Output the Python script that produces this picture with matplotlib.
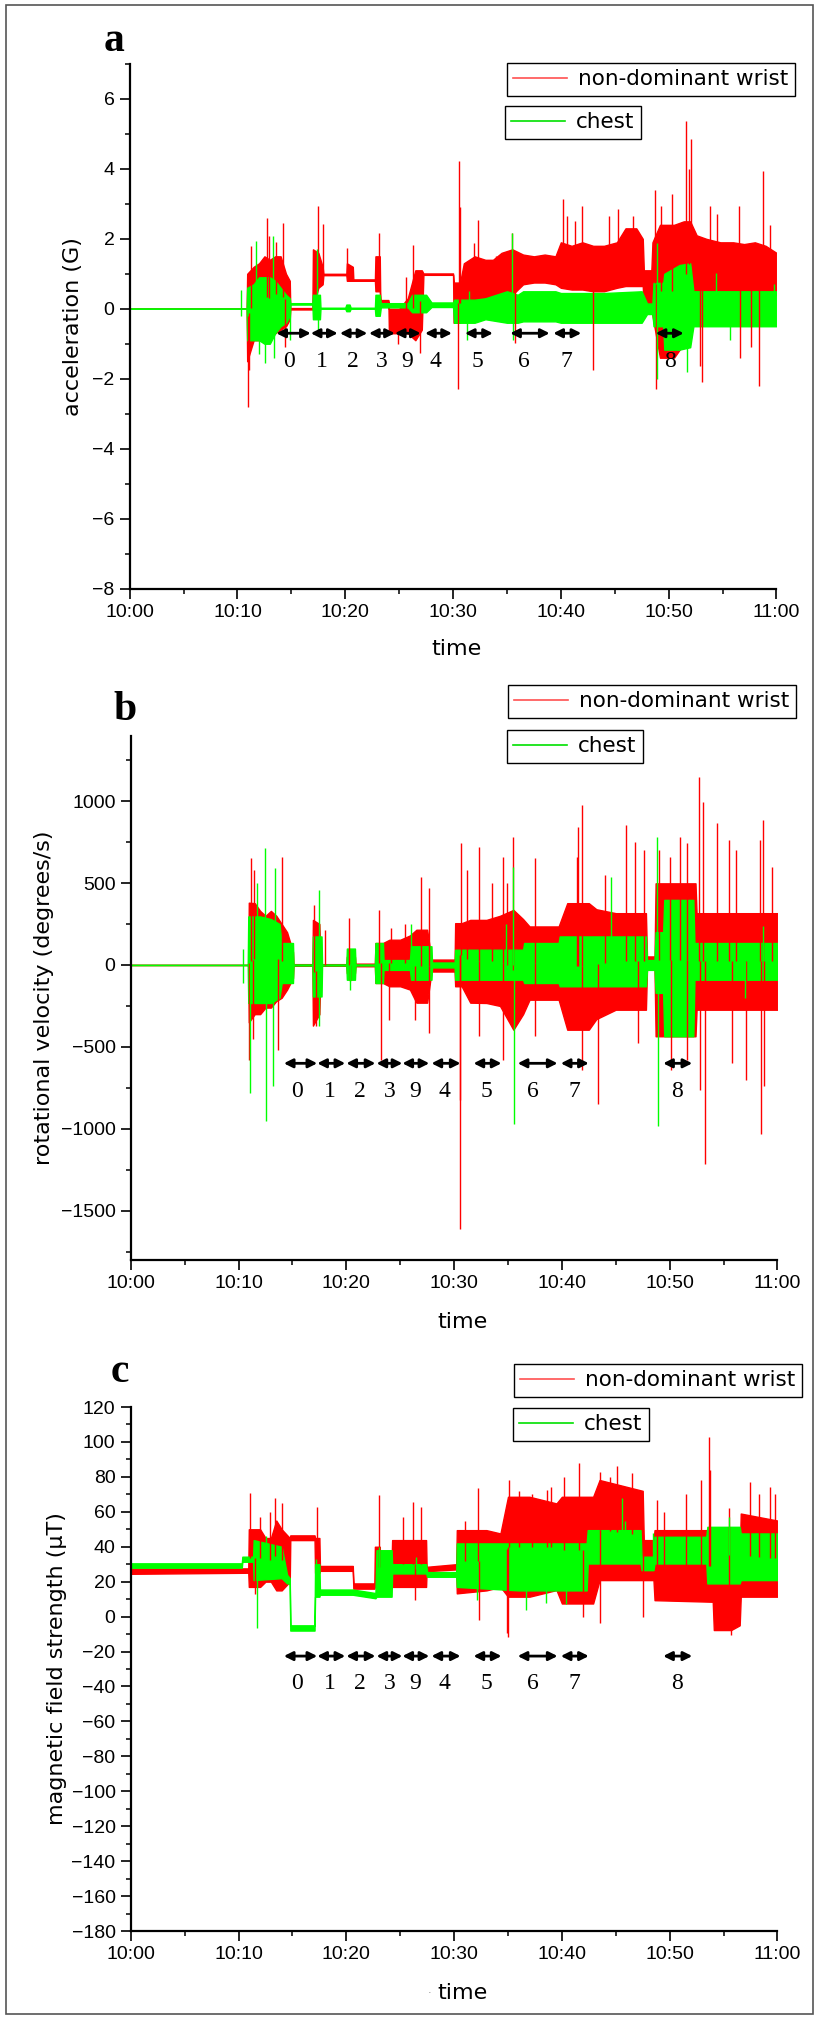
import numpy as np
import matplotlib
matplotlib.use('Agg')
import matplotlib.pyplot as plt
from matplotlib.lines import Line2D
from matplotlib.patches import Rectangle
from matplotlib.ticker import MultipleLocator, FuncFormatter

# ---- data (time in minutes after 10:00) ----
# signal envelope: time points with lower / upper values, plus isolated spikes (time, value)

# a: acceleration (G)
acc_wrist_t = [0, 10.85, 10.9, 11.5, 12.0, 12.5, 13.0, 13.5, 14.0, 14.5, 14.85, 14.9, 16.95, 17.0, 17.5, 17.9,
               17.97, 20.1, 20.15, 20.7, 20.75, 22.75, 22.8, 23.2, 23.25, 24.0, 24.05, 25.0, 25.8, 26.5, 27.1,
               27.25, 30.0, 30.05, 30.65, 31.0, 32.0, 33.0, 33.7, 34.5, 35.5, 36.5, 37.5, 38.5, 39.5, 40.0,
               41.0, 42.0, 43.0, 44.0, 45.2, 46.0, 47.0, 47.6, 47.7, 48.4, 48.5, 49.2, 50.5, 51.4, 52.0,
               52.6, 53.5, 54.8, 56.0, 57.0, 58.0, 59.0, 60]
acc_wrist_lo = [0, 0, -1.5, -0.9, -0.9, -0.8, -0.8, -0.7, -0.6, -0.5, -0.3, -0.02, -0.02, 0.0, 0.6, 0.7,
                0.96, 0.96, 0.8, 0.8, 0.8, 0.8, 0.5, 0.5, 0.2, 0.2, -0.7, -0.7, -0.7, -0.9, -0.6,
                0.97, 0.97, -0.4, -0.4, -0.2, -0.2, 0.0, 0.0, 0.3, 0.4, 0.7, 0.75, 0.75, 0.7, 0.6,
                0.55, 0.55, 0.5, 0.5, 0.6, 0.65, 0.65, 0.65, 0.0, 0.0, -0.2, -1.4, -1.4, -1.0, 0.26,
                0.26, 0.26, 0.36, 0.4, 0.36, 0.4, 0.36, 0.4]
acc_wrist_hi = [0, 0, 1.0, 1.2, 1.3, 1.5, 1.4, 1.5, 1.5, 1.0, 0.8, 0.02, 0.02, 1.7, 1.6, 1.2,
                1.0, 1.0, 1.3, 1.2, 0.84, 0.84, 1.5, 1.5, 0.25, 0.25, 0.0, 0.0, 0.3, 1.1, 1.1,
                1.01, 1.01, 0.75, 0.75, 1.3, 1.5, 1.4, 1.4, 1.6, 1.7, 1.55, 1.5, 1.55, 1.5, 1.9,
                1.8, 1.9, 1.8, 1.8, 1.9, 2.3, 2.3, 2.0, 1.1, 1.1, 1.9, 2.4, 2.4, 2.5, 2.5,
                2.1, 2.0, 1.9, 1.9, 1.85, 1.9, 1.8, 1.6]
acc_wrist_spk_t = [10.95, 11.1, 11.3, 12.7, 12.95, 13.6, 14.25, 14.4, 17.5, 17.97, 20.2, 23.1, 24.9, 25.6,
                   26.3, 26.95, 30.5, 30.55, 30.6, 31.9, 32.35, 34.0, 35.45, 35.75, 40.24, 40.6, 41.3,
                   41.94, 42.96, 44.5, 45.3, 46.7, 48.74, 48.8, 49.3, 50.3, 51.62, 51.9, 52.08, 52.9,
                   53.1, 53.8, 54.5, 56.5, 56.6, 57.6, 58.4, 58.8, 59.4]
acc_wrist_spk_v = [-2.8, -1.74, 1.8, 2.6, 2.08, 1.9, 2.46, -1.1, 2.94, 2.41, 1.74, 2.17, -1.0, 0.9,
                   1.82, -1.26, -2.3, 4.23, 2.9, 1.89, 2.55, 1.5, 2.17, -0.98, 3.13, 2.65, 2.5,
                   2.94, -1.74, 2.65, 2.84, 2.65, 3.4, -2.3, 2.94, 3.27, 5.37, 3.99, 4.85, -1.65,
                   -2.1, 2.94, 2.7, 2.94, -1.4, -1.1, -2.2, 3.94, 2.4]

acc_chest_t = [0, 10.85, 10.9, 11.5, 12.0, 12.5, 13.0, 13.5, 14.0, 14.5, 14.85, 14.9, 16.95, 17.0, 17.65,
               17.7, 20.0, 20.1, 20.4, 20.5, 22.75, 22.8, 23.2, 23.3, 25.8, 26.2, 27.5, 28.0, 30.0, 30.1,
               32.0, 33.0, 35.0, 36.0, 36.5, 39.5, 40.0, 44.0, 47.5, 48.0, 48.5, 48.6, 49.5, 49.6, 51.0,
               52.0, 52.3, 60]
acc_chest_lo = [0, 0, -0.9, -0.9, -0.9, -1.0, -1.0, -0.7, -0.5, -0.4, -0.2, 0.12, 0.12, -0.3, -0.3,
                0.0, 0.0, -0.07, -0.07, 0.0, 0.0, -0.2, -0.2, 0.04, 0.04, -0.1, -0.1, 0.05, 0.05, -0.4,
                -0.4, -0.3, -0.4, -0.4, -0.36, -0.36, -0.4, -0.4, -0.4, -0.15, -0.15, -0.5, -0.5, -1.17, -1.17,
                -1.1, -0.5, -0.5]
acc_chest_hi = [0, 0, 0.6, 0.7, 0.9, 0.9, 0.9, 0.8, 0.6, 0.4, 0.3, 0.16, 0.16, 0.4, 0.4,
                0.03, 0.03, 0.12, 0.12, 0.03, 0.03, 0.4, 0.4, 0.16, 0.16, 0.4, 0.4, 0.18, 0.18, 0.26,
                0.26, 0.3, 0.5, 0.4, 0.5, 0.5, 0.45, 0.45, 0.5, 0.15, 0.15, 0.74, 0.74, 1.0, 1.25,
                1.3, 0.5, 0.5]
acc_chest_spk_t = [10.3, 10.35, 11.7, 12.0, 12.55, 13.3, 13.35, 14.9, 17.4, 17.45, 31.3, 31.5, 35.5, 35.6,
                   48.9, 48.95, 51.7, 54.4, 55.7, 59.8]
acc_chest_spk_v = [0.55, -0.21, 1.93, -1.3, -1.55, 2.08, -1.4, -0.9, 1.7, -0.7, -0.88, 0.5, 2.17, -0.88,
                   1.89, -2.0, -1.8, 1.03, -0.88, 0.7]

# b: rotational velocity (degrees/s)
rot_wrist_t = [0, 10.9, 10.95, 11.5, 12.0, 12.5, 13.0, 13.5, 14.0, 14.5, 15.05, 15.1, 16.85, 16.9, 17.5,
               17.6, 20.0, 20.05, 20.8, 20.85, 22.65, 22.7, 23.4, 24.0, 25.0, 25.9, 26.5, 27.5, 27.9, 30.05,
               30.1, 30.7, 31.5, 33.0, 34.26, 35.5, 36.4, 37.0, 39.7, 40.5, 42.5, 43.2, 45.0, 47.8, 47.9,
               48.6, 48.7, 52.4, 52.5, 60]
rot_wrist_lo = [0, 0, -350, -300, -300, -260, -260, -220, -200, -150, -80, -5, -5, -370, -300,
                -5, -5, -50, -50, -8, -8, -110, -110, -130, -130, -150, -230, -230, -40, -40,
                -130, -130, -230, -232, -250, -395, -300, -212, -212, -395, -395, -330, -273, -273, -29,
                -29, -435, -435, -273, -273]
rot_wrist_hi = [0, 0, 380, 377, 330, 300, 330, 300, 250, 200, 80, 5, 5, 275, 250,
                5, 5, 50, 50, 8, 8, 134, 134, 154, 154, 180, 215, 215, 33, 33,
                255, 255, 275, 275, 300, 336, 280, 235, 235, 377, 377, 340, 316, 316, 52,
                52, 498, 498, 316, 316]
rot_wrist_spk_t = [10.95, 11.15, 11.3, 11.4, 13.7, 14.0, 17.0, 17.2, 18.0, 20.25, 20.3, 23.0, 23.18, 24.0,
                   24.1, 25.4, 26.4, 26.93, 27.67, 27.7, 30.55, 30.57, 30.6, 31.2, 32.31, 32.35, 33.5,
                   34.5, 34.55, 34.9, 35.5, 37.5, 37.55, 41.4, 41.5, 41.84, 41.9, 43.33, 44.0, 45.92,
                   46.8, 47.1, 47.6, 49.0, 50.0, 50.1, 50.96, 51.6, 51.65, 52.76, 52.8, 53.13, 53.31,
                   54.4, 55.5, 55.8, 56.2, 57.1, 58.4, 58.45, 58.7, 58.75, 59.5]
rot_wrist_spk_v = [-577, 651, -450, 580, -516, 661, 367, -374, 215, 285, -100, 336, -577, -334,
                   225, 250, -334, 539, -415, 468, -821, -1612, 742, 580, 722, -435, 500,
                   661, -577, 500, 783, 651, -435, 661, 843, 976, -638, -851, 550, 854,
                   752, -476, 700, 700, 660, -638, 783, 742, -577, 1148, -760, 996, -1217,
                   864, 760, -600, 700, -700, 762, -1034, 884, -740, 600]

rot_chest_t = [0, 10.85, 10.9, 12.0, 13.0, 13.8, 14.0, 15.05, 15.1, 16.85, 16.9, 17.7, 17.75, 20.0, 20.05,
               20.8, 20.85, 22.65, 22.7, 23.4, 23.45, 25.9, 26.0, 27.9, 27.95, 30.05, 30.1, 36.4, 36.5, 39.7,
               39.8, 47.8, 47.9, 48.6, 48.7, 49.4, 49.5, 52.2, 52.3, 60]
rot_chest_lo = [0, 0, -232, -232, -232, -200, -110, -110, -3, -3, -192, -192, -3, -3, -90,
                -90, -3, -3, -110, -110, -30, -30, -90, -90, -15, -15, -90, -90, -110, -110,
                -130, -130, -30, -30, -170, -170, -435, -435, -90, -90]
rot_chest_hi = [0, 0, 296, 296, 280, 250, 134, 134, 3, 3, 174, 174, 3, 3, 100,
                100, 3, 3, 134, 134, 30, 30, 114, 114, 15, 15, 93, 93, 134, 134,
                174, 174, 30, 30, 200, 200, 397, 397, 134, 134]
rot_chest_spk_t = [10.38, 10.4, 11.05, 11.7, 12.45, 12.5, 13.2, 13.4, 17.45, 17.5, 20.3, 26.0, 34.8, 35.5,
                   35.55, 44.6, 48.86, 48.9, 57.0, 58.7]
rot_chest_spk_v = [100, -110, -780, 500, 712, -953, -740, 590, 458, -374, -150, 250, 250, 600,
                   -973, 539, 783, -983, -200, 235]

# c: magnetic field strength (uT)
mag_wrist_t = [0, 10.9, 10.95, 12.0, 12.5, 13.0, 13.5, 14.0, 14.75, 14.8, 17.05, 17.1, 17.5, 17.55, 20.6,
               20.65, 22.6, 22.65, 23.1, 23.15, 24.2, 24.25, 27.4, 27.45, 30.2, 30.25, 33.0, 34.3, 35.0,
               37.0, 39.5, 40.0, 42.9, 43.5, 47.5, 47.6, 48.5, 48.6, 54.0, 54.1, 55.7, 56.5, 56.6, 60]
mag_wrist_lo = [24.5, 25.1, 17, 17, 20, 20, 15, 15, 20, 43.8, 43.8, 25, 25, 26.2, 26.2,
                16, 16, 17, 17, 28.5, 28.5, 17, 17, 26, 27, 13.3, 15, 17, 11.4,
                11.4, 15.2, 7.5, 7.5, 20.9, 20.9, 20.9, 20.9, 9.4, 8.5, -7.7, -7.7, -5, 11.4, 11.4]
mag_wrist_hi = [27.5, 27.6, 50, 50, 45, 45, 55, 50, 45, 46.5, 46.5, 45, 45, 29, 29,
                19, 19, 40, 40, 32, 32, 43.8, 43.8, 28.5, 30, 49.5, 49.5, 47.6, 68.6,
                68.6, 64.8, 68.6, 68.6, 78.2, 72, 43.8, 43.8, 49.5, 49.5, 34.3, 30, 34.3, 59, 55]
mag_wrist_spk_t = [11.06, 11.5, 12.0, 12.9, 13.4, 14.0, 17.3, 23.06, 25.3, 26.2, 26.4, 26.97, 31.0, 32.25,
                   32.35, 34.9, 35.0, 35.1, 36.0, 37.2, 38.6, 39.0, 40.2, 41.6, 42.0, 43.5, 43.55, 44.5,
                   45.1, 46.5, 47.5, 48.8, 49.5, 51.5, 52.9, 53.66, 53.75, 55.5, 55.66, 57.5, 58.3,
                   59.3, 59.8]
mag_wrist_spk_v = [70.5, 13, 57, 60, 67.7, 64.8, 62.9, 69.6, 57, 65.8, 9.4, 62.9, 55, 73.4,
                   -2, -9.6, -11.6, 78.2, 72, 70, 72.4, 74, 80, 87.7, 0, 82.9, -3.9, 80,
                   86.2, 82, 0, 66.7, 60, 70, 78.2, 103, 83.9, 62, -10.6, 77.2, 70,
                   74.3, 70]

mag_chest_t = [0, 10.3, 10.35, 11.35, 11.4, 14.0, 14.5, 14.75, 14.8, 17.05, 17.1, 17.5, 17.55, 20.6, 22.7,
               22.8, 24.2, 24.25, 27.4, 27.5, 30.2, 30.25, 36.0, 42.3, 42.4, 47.3, 47.4, 48.5, 48.6,
               53.4, 53.5, 56.5, 56.6, 60]
mag_chest_lo = [28, 28, 31.4, 31.4, 20.9, 22, 19, 19, -8, -8, 11.4, 11.4, 12.5, 12.5, 10.5,
                11.4, 11.4, 24.7, 24.7, 22.8, 22.8, 17, 15, 15, 30.4, 30.4, 26.6, 26.6, 30.4,
                30.4, 19, 19, 20.9, 20.9]
mag_chest_hi = [30.5, 30.5, 34.3, 34.3, 43.8, 40, 24, 22, -5, -5, 30, 30, 15.5, 15.5, 13.5,
                38, 38, 30, 30, 25.5, 25.5, 41.9, 41.9, 41.9, 49.5, 49.5, 34.3, 34.3, 45.7,
                45.7, 51.4, 51.4, 47.6, 47.6]
mag_chest_spk_t = [11.68, 12.5, 17.2, 23.0, 26.5, 32.1, 36.7, 38.5, 40.4, 45.6, 45.9, 48.5, 55.5, 55.9, 58.0]
mag_chest_spk_v = [-6.8, 46, 33, 40, 34.3, 9.4, 3.7, 8, 7, 67.7, 55, 48, 57.2, 20, 48]

# activity arrows: (start, end) and labels
arrow_labels = ['0', '1', '2', '3', '9', '4', '5', '6', '7', '8']
arrows_a = [(13.6, 16.8), (16.8, 19.3), (19.5, 22.05), (22.2, 24.6), (24.6, 27.0), (27.4, 29.9),
            (31.1, 33.7), (35.3, 38.96), (39.3, 41.9), (48.8, 51.4)]
labels_a_x = [14.8, 17.8, 20.7, 23.4, 25.7, 28.4, 32.3, 36.6, 40.5, 50.1]
arrows_bc = [(14.2, 17.3), (17.3, 19.9), (20.0, 22.7), (22.8, 25.2), (25.2, 27.7), (27.9, 30.6),
             (31.8, 34.4), (35.9, 39.6), (39.9, 42.5), (49.4, 52.1)]
labels_bc_x = [15.4, 18.5, 21.3, 24.0, 26.4, 29.1, 33.0, 37.3, 41.2, 50.7]

RED = '#ff0000'
GREEN = '#00ff00'
W, H = 817, 2018


def draw_series(ax, t, lo, hi, spk_t, spk_v, color):
    t = np.asarray(t, float)
    lo = np.asarray(lo, float)
    hi = np.asarray(hi, float)
    ax.fill_between(t, lo, hi, facecolor=color, edgecolor=color, linewidth=1.0)
    base = (np.interp(spk_t, t, lo) + np.interp(spk_t, t, hi)) / 2
    ax.vlines(spk_t, base, spk_v, color=color, linewidth=1.0)


def time_fmt(x, pos):
    m = int(round(x))
    return f"{10 + m // 60}:{m % 60:02d}"


def style_axes(ax, ylim, major, minor):
    ax.set_xlim(0, 60)
    ax.set_ylim(*ylim)
    ax.xaxis.set_major_locator(MultipleLocator(10))
    ax.xaxis.set_minor_locator(MultipleLocator(5))
    ax.xaxis.set_major_formatter(FuncFormatter(time_fmt))
    ax.yaxis.set_major_locator(MultipleLocator(major))
    ax.yaxis.set_minor_locator(MultipleLocator(minor))
    for s in ['top', 'right']:
        ax.spines[s].set_visible(False)
    for s in ['left', 'bottom']:
        ax.spines[s].set_linewidth(1.6)
    ax.tick_params(which='major', direction='out', length=7, width=1.2, labelsize=14, pad=4)
    ax.tick_params(which='minor', direction='out', length=3.5, width=1.1)
    for lab in ax.get_xticklabels() + ax.get_yticklabels():
        lab.set_fontfamily('Liberation Sans')


def draw_arrows(ax, spans, xs, y_arrow, y_text):
    for (t0, t1), xt, lab in zip(spans, xs, arrow_labels):
        ax.annotate('', xy=(t1, y_arrow), xytext=(t0, y_arrow),
                    arrowprops=dict(arrowstyle='<|-|>', color='black', lw=2.0,
                                    mutation_scale=13, shrinkA=0, shrinkB=0))
        ax.text(xt, y_text, lab, ha='center', va='center', fontsize=17,
                family='Liberation Serif')


def add_legends(fig, box1, box2):
    h_red = Line2D([], [], color='#ff5050', lw=1.2)
    h_green = Line2D([], [], color='#00e000', lw=1.2)
    for (x0, y0), h, lab in [(box1, h_red, 'non-dominant wrist'), (box2, h_green, 'chest')]:
        leg = fig.legend([h], [lab], loc='upper left', bbox_to_anchor=(x0 / W, 1 - y0 / H),
                         bbox_transform=fig.transFigure, borderaxespad=0, fancybox=False,
                         edgecolor='black', framealpha=1, fontsize=15.5, handlelength=2.5,
                         handletextpad=0.5, borderpad=0.3)
        leg.get_frame().set_linewidth(1.0)


fig = plt.figure(figsize=(W / 100, H / 100), dpi=100)

panels = [
    dict(rect=[129.7, 64, 776.4, 588.5], ylim=(-8, 7), major=2, minor=1,
         ylabel='acceleration (G)', ylab_x=73, letter='a', letter_xy=(114, 41),
         wrist=(acc_wrist_t, acc_wrist_lo, acc_wrist_hi, acc_wrist_spk_t, acc_wrist_spk_v),
         chest=(acc_chest_t, acc_chest_lo, acc_chest_hi, acc_chest_spk_t, acc_chest_spk_v),
         arrows=arrows_a, labx=labels_a_x, ya=-0.7, yt=-1.52,
         leg=((507, 63), (505, 106)), time_xy=(456, 649)),
    dict(rect=[130.8, 735.5, 777.4, 1260], ylim=(-1800, 1400), major=500, minor=250,
         ylabel='rotational velocity (degrees/s)', ylab_x=44, letter='b', letter_xy=(125, 710),
         wrist=(rot_wrist_t, rot_wrist_lo, rot_wrist_hi, rot_wrist_spk_t, rot_wrist_spk_v),
         chest=(rot_chest_t, rot_chest_lo, rot_chest_hi, rot_chest_spk_t, rot_chest_spk_v),
         arrows=arrows_bc, labx=labels_bc_x, ya=-600, yt=-770,
         leg=((508, 685), (507, 730)), time_xy=(463, 1322)),
    dict(rect=[130.8, 1407, 777.4, 1931], ylim=(-180, 120), major=20, minor=10,
         ylabel='magnetic field strength (μT)', ylab_x=57, letter='c', letter_xy=(120, 1372),
         wrist=(mag_wrist_t, mag_wrist_lo, mag_wrist_hi, mag_wrist_spk_t, mag_wrist_spk_v),
         chest=(mag_chest_t, mag_chest_lo, mag_chest_hi, mag_chest_spk_t, mag_chest_spk_v),
         arrows=arrows_bc, labx=labels_bc_x, ya=-22.6, yt=-38.5,
         leg=((514, 1364), (513, 1408)), time_xy=(463, 1993)),
]

for p in panels:
    x0, y0, x1, y1 = p['rect']
    ax = fig.add_axes([x0 / W, 1 - y1 / H, (x1 - x0) / W, (y1 - y0) / H])
    draw_series(ax, *p['wrist'], RED)
    draw_series(ax, *p['chest'], GREEN)
    style_axes(ax, p['ylim'], p['major'], p['minor'])
    draw_arrows(ax, p['arrows'], p['labx'], p['ya'], p['yt'])
    fig.text(p['ylab_x'] / W, 1 - ((y0 + y1) / 2) / H, p['ylabel'], rotation=90,
             ha='center', va='center', fontsize=16)
    fig.text(p['time_xy'][0] / W, 1 - p['time_xy'][1] / H, 'time', ha='center', va='center',
             fontsize=16)
    lx, ly = p['letter_xy']
    fig.text(lx / W, 1 - ly / H, p['letter'], ha='center', va='center', fontsize=30,
             fontweight='bold', family='Liberation Serif')
    add_legends(fig, *p['leg'])

# small stray dot in front of the last "time"
fig.text(430 / W, 1 - 1993 / H, '·', ha='center', va='center', fontsize=8, color='#888888')

# outer frame
fig.patches.append(Rectangle((6 / W, 4 / H), (813 - 6) / W, (2013 - 4) / H, transform=fig.transFigure,
                             fill=False, edgecolor='#555555', linewidth=1.2))

fig.savefig('out.png', dpi=100)
